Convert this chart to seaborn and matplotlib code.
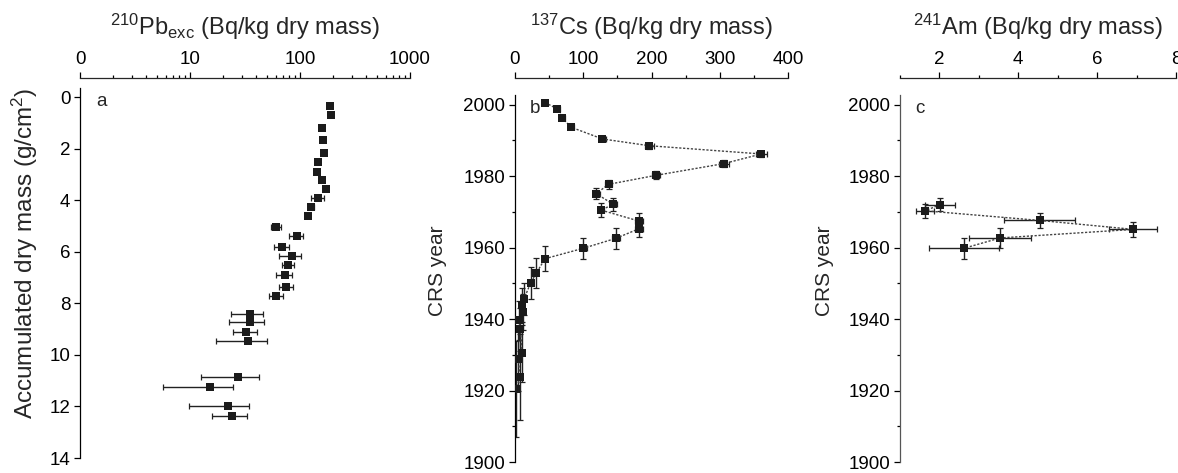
import numpy as np
import pandas as pd
import matplotlib
matplotlib.use("Agg")
import matplotlib.pyplot as plt
import seaborn as sns
from matplotlib.ticker import MultipleLocator, LogLocator, NullFormatter, FixedLocator

# ---------------- data ----------------
# panel a: 210Pb excess vs accumulated dry mass
pb_depth = [0.35, 0.70, 1.19, 1.68, 2.17, 2.53, 2.90, 3.22, 3.58, 3.90, 4.25, 4.61, 5.03, 5.39,
            5.80, 6.16, 6.53, 6.90, 7.35, 7.71, 8.42, 8.71, 9.12, 9.48, 10.84, 11.23, 12.00, 12.36]
pb_act = [187, 190, 157, 161, 166, 147, 142, 159, 172, 145, 126, 119, 61, 93,
          69, 84, 78, 73, 75, 61, 35, 35, 32.6, 33.8, 27.5, 15.2, 22, 24.3]
pb_err = [6, 6, 5, 7, 6, 5, 8, 6, 6, 20, 8, 5, 6, 13.5,
          10.5, 19, 10, 12, 11, 8.5, 11.4, 12.5, 7.8, 16.7, 14.8, 9.5, 12.2, 8.5]
pb_ticks = [1, 10, 100, 1000]
pb_ticklabels = ["0", "10", "100", "1000"]

# panel b: 137Cs vs CRS year
cs_year = [2000.6, 1998.8, 1996.3, 1993.7, 1990.4, 1988.5, 1986.2, 1983.5, 1980.2, 1977.7,
           1975.1, 1972.1, 1970.5, 1967.4, 1965.3, 1962.6, 1959.8, 1956.9, 1952.8, 1950.1,
           1945.6, 1944.0, 1941.9, 1939.6, 1937.2, 1930.4, 1928.8, 1923.7, 1920.5]
cs_act = [44, 62, 69, 82, 128, 197, 361, 306, 206, 137,
          119, 144, 126, 182, 182, 148, 100, 44, 31, 23,
          13, 10, 12, 6, 8, 10, 5, 7, 2]
cs_yerr = [0.3, 0.4, 0.5, 0.6, 0.7, 0.8, 0.9, 1.0, 1.1, 1.2,
           1.6, 1.9, 2.0, 2.2, 2.4, 2.9, 3.0, 3.5, 4.2, 4.4,
           4.5, 4.8, 5.0, 5.5, 6.0, 8.0, 9.0, 12.0, 13.5]
cs_xerr = [3, 4, 4, 4, 5, 6, 8, 7, 6, 5,
           5, 5, 5, 6, 6, 6, 5, 3, 3, 3,
           2, 2, 2, 2, 2, 2, 2, 2, 2]

# panel c: 241Am vs CRS year
am_year = [1972.0, 1970.3, 1967.6, 1965.1, 1962.7, 1959.8]
am_act = [2.02, 1.63, 4.54, 6.92, 3.54, 2.62]
am_xerr = [0.38, 0.23, 0.90, 0.61, 0.79, 0.89]
am_yerr = [1.8, 1.9, 2.1, 2.2, 2.7, 3.0]

title_a = r"$^{210}$Pb$_{exc}$ (Bq/kg dry mass)"
title_b = r"$^{137}$Cs (Bq/kg dry mass)"
title_c = r"$^{241}$Am (Bq/kg dry mass)"
ylabel_a = r"Accumulated dry mass (g/cm$^{2}$)"
ylabel_bc = "CRS year"

# ---------------- style ----------------
sns.set_theme(style="ticks")
plt.rcParams["font.family"] = ["Liberation Sans", "DejaVu Sans"]
plt.rcParams["mathtext.fontset"] = "custom"
plt.rcParams["mathtext.rm"] = "Liberation Sans"
plt.rcParams["mathtext.it"] = "Liberation Sans"
plt.rcParams["mathtext.default"] = "regular"

W, H = 1178, 473
fig = plt.figure(figsize=(W / 100, H / 100), dpi=100)


def add_axes(l, r, t, b):
    return fig.add_axes([l / W, 1 - b / H, (r - l) / W, (b - t) / H])


axA = add_axes(80, 410, 88, 458)
axB = add_axes(515, 788, 95, 462)
axC = add_axes(900, 1176, 95, 462)

MK = "#1b1b1b"
TICK_FS = 13.5
TITLE_FS = 17


def style_axes(ax, top_offset_px, title, ylabel, ylab_fs, title_y, ylab_x, ylab_y, letter, letter_x,
               spine_color="black"):
    ax.set_facecolor("white")
    for s in ["right", "bottom"]:
        ax.spines[s].set_visible(False)
    ax.spines["top"].set_position(("outward", top_offset_px * 0.72))
    ax.spines["top"].set_linewidth(0.9)
    ax.spines["left"].set_linewidth(0.9)
    ax.spines["left"].set_color(spine_color)
    ax.xaxis.tick_top()
    ax.xaxis.set_label_position("top")
    ax.tick_params(axis="x", which="both", top=True, bottom=False, direction="out",
                   labelsize=TICK_FS, pad=3.5, width=0.9, colors="black")
    ax.tick_params(axis="x", which="major", length=4)
    ax.tick_params(axis="x", which="minor", length=2.5)
    ax.tick_params(axis="y", which="both", left=True, right=False, direction="out",
                   labelsize=TICK_FS, pad=3, width=0.9, colors="black")
    ax.tick_params(axis="y", which="major", length=4)
    ax.tick_params(axis="y", which="minor", length=2.5)
    ax.set_xlabel(title, fontsize=TITLE_FS)
    ax.xaxis.set_label_coords(0.5, title_y)
    ax.xaxis.label.set_va("center")
    ax.set_ylabel(ylabel, fontsize=ylab_fs)
    ax.yaxis.set_label_coords(ylab_x, ylab_y)
    ax.yaxis.label.set_va("center")
    ax.text(letter_x, 0.987, letter, transform=ax.transAxes, fontsize=TICK_FS,
            va="top", ha="left")


# ---- panel a ----
axA.errorbar(pb_act, pb_depth, xerr=pb_err, fmt="none", ecolor="#222222",
             elinewidth=1.0, capsize=2.3, capthick=0.9, zorder=2)
sns.scatterplot(x=pb_act, y=pb_depth, marker="s", s=36, color=MK, linewidth=0,
                ax=axA, zorder=3, legend=False)
axA.set_xscale("log")
axA.set_xlim(1, 1000)
axA.set_ylim(14, -0.35)
axA.xaxis.set_major_locator(FixedLocator(pb_ticks))
axA.set_xticklabels(pb_ticklabels)
axA.xaxis.set_minor_locator(LogLocator(base=10, subs=np.arange(2, 10)))
axA.xaxis.set_minor_formatter(NullFormatter())
axA.yaxis.set_major_locator(MultipleLocator(2))
style_axes(axA, 10, title_a, ylabel_a, 17.5, 1.165, -0.168, 0.553, "a", 16 / 330)

# ---- panel b ----
axB.errorbar(cs_act, cs_year, xerr=cs_xerr, yerr=cs_yerr, fmt="none", ecolor="#222222",
             elinewidth=1.0, capsize=2.3, capthick=0.9, zorder=2)
sns.lineplot(x=cs_act, y=cs_year, sort=False, estimator=None, ax=axB, color="#444444",
             linewidth=1.0, linestyle=(0, (1.6, 1.2)), zorder=2.5)
sns.scatterplot(x=cs_act, y=cs_year, marker="s", s=40, color=MK, linewidth=0,
                ax=axB, zorder=3, legend=False)
axB.set_xlim(0, 400)
axB.set_ylim(1900, 2002.7)
axB.xaxis.set_major_locator(MultipleLocator(100))
axB.xaxis.set_minor_locator(MultipleLocator(50))
axB.yaxis.set_major_locator(MultipleLocator(20))
axB.yaxis.set_minor_locator(MultipleLocator(10))
style_axes(axB, 17, title_b, ylabel_bc, 15, 1.185, -0.284, 0.52, "b", 15 / 273)

# ---- panel c ----
axC.errorbar(am_act, am_year, xerr=am_xerr, yerr=am_yerr, fmt="none", ecolor="#222222",
             elinewidth=1.0, capsize=2.3, capthick=0.9, zorder=2)
sns.lineplot(x=am_act, y=am_year, sort=False, estimator=None, ax=axC, color="#444444",
             linewidth=1.0, linestyle=(0, (1.6, 1.2)), zorder=2.5)
sns.scatterplot(x=am_act, y=am_year, marker="s", s=40, color=MK, linewidth=0,
                ax=axC, zorder=3, legend=False)
axC.set_xlim(1, 8)
axC.set_ylim(1900, 2002.7)
axC.xaxis.set_major_locator(FixedLocator([2, 4, 6, 8]))
axC.xaxis.set_minor_locator(FixedLocator([1, 3, 5, 7]))
axC.yaxis.set_major_locator(MultipleLocator(20))
axC.yaxis.set_minor_locator(MultipleLocator(10))
style_axes(axC, 17, title_c, ylabel_bc, 15, 1.185, -0.275, 0.52, "c", 15 / 276, spine_color="#555555")

fig.savefig("out.png", dpi=100, facecolor="white")
